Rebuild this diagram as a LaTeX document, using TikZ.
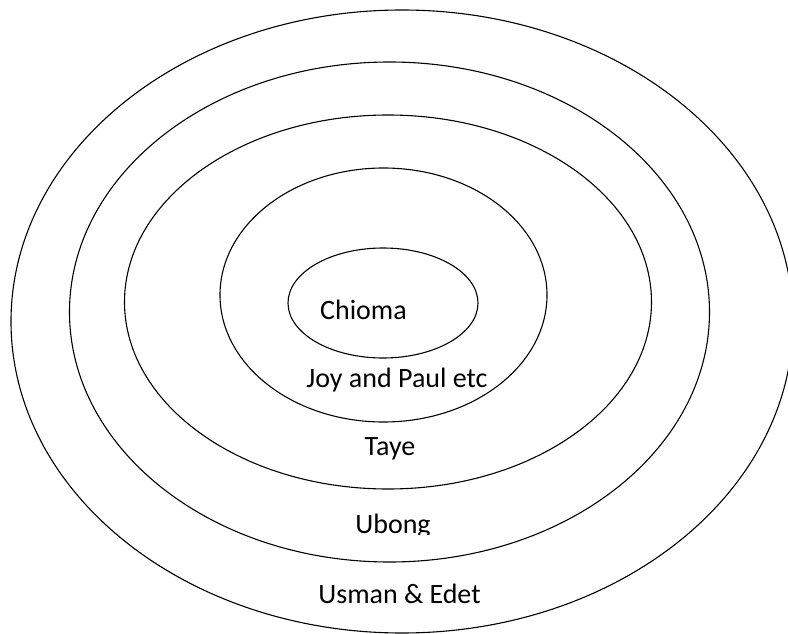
\documentclass[tikz,border=0pt]{standalone}
\usepackage{fontspec}
\setmainfont{Carlito}
\usetikzlibrary{shapes.geometric}
\begin{document}
\begin{tikzpicture}[x=1pt,y=-1pt,
  ring/.style={draw=black,line width=1.1pt,ellipse,inner sep=0pt,fill=none},
  lbl/.style={anchor=base,inner sep=0pt,font=\fontsize{28}{30}\selectfont}]
\useasboundingbox (0,0) rectangle (788,634);
\fill[white] (0,0) rectangle (788,634);
\node[ring,minimum width=782pt,minimum height=623pt] (e1) at (402,321.5) {};
\node[ring,minimum width=640pt,minimum height=500pt] (e2) at (389.5,312) {};
\node[ring,minimum width=527pt,minimum height=374pt] (e3) at (388,302) {};
\node[ring,minimum width=327pt,minimum height=254pt] (e4) at (383.5,295) {};
\node[ring,minimum width=190pt,minimum height=110pt] (e5) at (383,303) {};
\node[lbl] (chioma) at (363.5,319) {Chioma};
\node[lbl] (joy) at (397,387) {Joy and Paul etc};
\node[lbl] (taye) at (390,455) {Taye};
\begin{scope}
\clip (300,500) rectangle (500,534.5);
\node[lbl] (ubong) at (393,533) {Ubong};
\end{scope}
\node[lbl] (usman) at (399.5,603) {Usman \& Edet};
\end{tikzpicture}
\end{document}
